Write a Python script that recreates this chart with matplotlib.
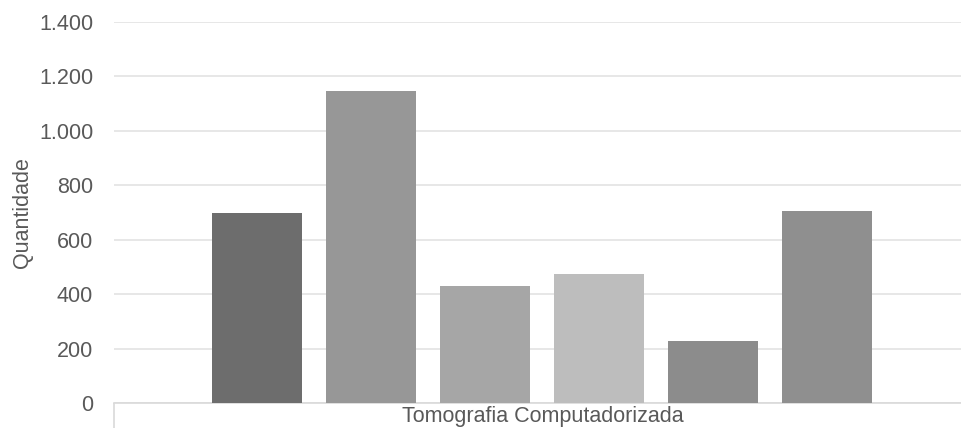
import numpy as np
import matplotlib.pyplot as plt
from matplotlib.ticker import FuncFormatter

plt.rcParams['font.family'] = ['Liberation Sans', 'DejaVu Sans']

# %% Data
category = "Tomografia Computadorizada"
values = [700, 1147, 430, 474, 228, 706]
colors = ["#6d6d6d", "#979797", "#a6a6a6", "#bdbdbd", "#8c8c8c", "#8f8f8f"]
yticks = [0, 200, 400, 600, 800, 1000, 1200, 1400]

# %% Plot
fig = plt.figure(figsize=(9.62, 4.28), dpi=100)
# axes runs a little past the right edge of the image, like the original
ax = fig.add_axes([114 / 962, 25 / 428, 857 / 962, 381 / 428])

n = len(values)
pitch = 114 / 857
width = 90 / 857
offsets = (np.arange(n) - (n - 1) / 2) * pitch
ax.bar(offsets, values, width=width, color=colors, zorder=3)

ax.set_xlim(-0.5, 0.5)
ax.set_ylim(0, 1400)
ax.set_yticks(yticks)
ax.yaxis.set_major_formatter(FuncFormatter(lambda v, p: f"{int(v):,}".replace(",", ".")))
ax.grid(axis="y", color="#e3e3e3", linewidth=1.2, zorder=0)

ax.set_xticks([0])
ax.set_xticklabels([category])
ax.set_xticks([-0.5, 0.5], minor=True)
ax.tick_params(axis="x", which="major", length=0, pad=2, labelsize=15.5, labelcolor="#595959")
ax.tick_params(axis="x", which="minor", length=18, width=1.2, color="#d9d9d9")
ax.tick_params(axis="y", length=0, pad=15, labelsize=15.5, labelcolor="#595959")

for side in ["top", "right", "left"]:
    ax.spines[side].set_visible(False)
ax.spines["bottom"].set_color("#d9d9d9")
ax.spines["bottom"].set_linewidth(1.2)

ax.set_ylabel("Quantidade", fontsize=15.5, color="#595959", labelpad=4)

fig.savefig("out.png", dpi=100)
